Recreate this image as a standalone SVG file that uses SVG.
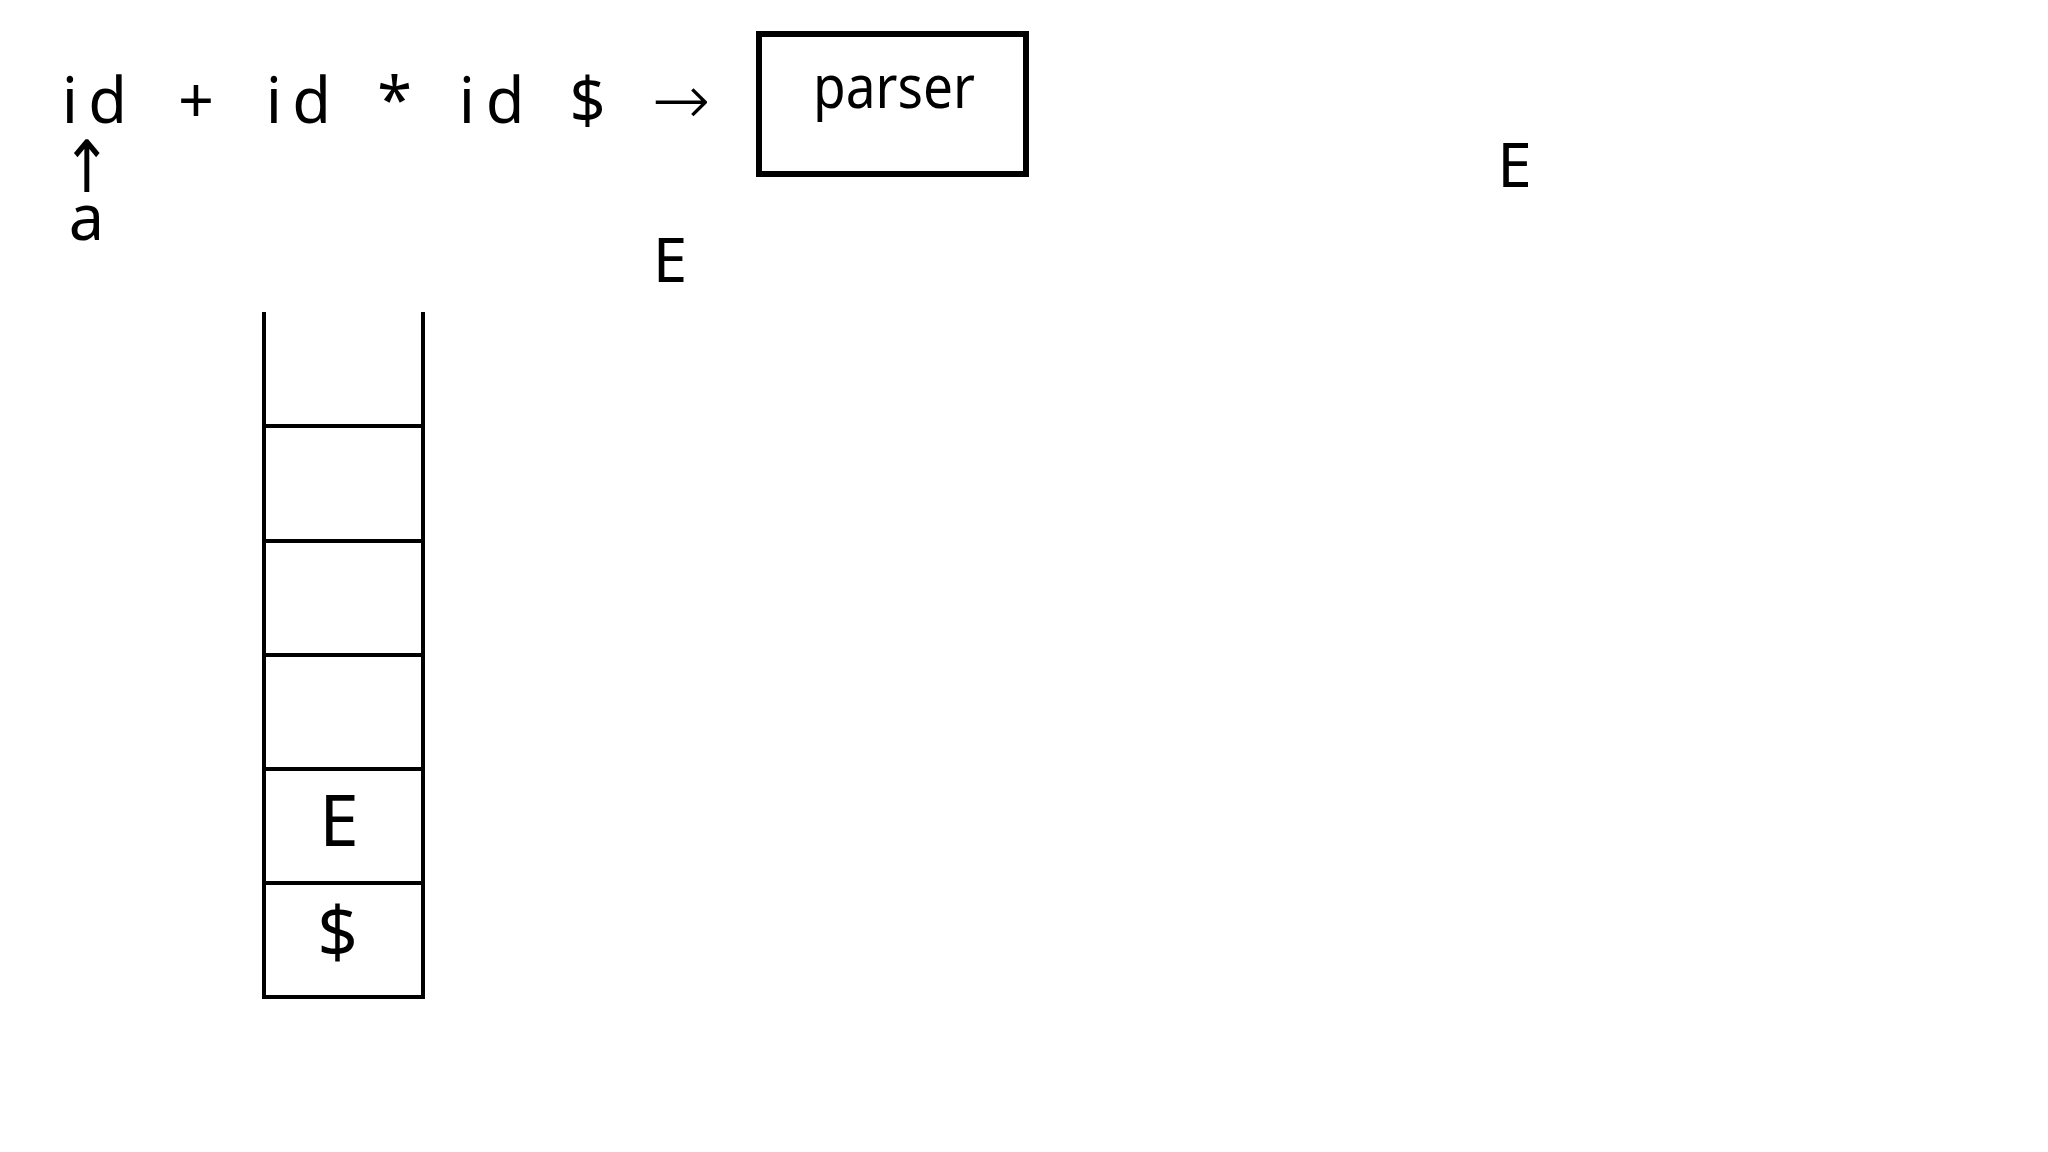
<svg xmlns="http://www.w3.org/2000/svg" width="2048" height="1152" viewBox="0 0 2048 1152">
<style>
  text { font-family: "Noto Sans", "Open Sans", "DejaVu Sans", sans-serif; fill: #000; text-anchor: middle; }
  .tok { font-size: 63px; }
  .sym { font-family: "DejaVu Sans", "Noto Sans", sans-serif; }
  .thin { font-weight: 200; }
  .lbl { font-size: 62px; }
  .cell { font-size: 71px; }
  .ln { stroke: #000; stroke-width: 4; fill: none; }
</style>
<rect width="2048" height="1152" fill="#fff"/>
<g id="input">
  <text class="tok" x="70" y="123">i</text>
  <text class="tok" x="107.5" y="123">d</text>
  <text class="tok" x="196" y="123">+</text>
  <text class="tok" x="274" y="123">i</text>
  <text class="tok" x="311.5" y="123">d</text>
  <text class="tok" x="394.5" y="123">*</text>
  <text class="tok" x="467" y="123">i</text>
  <text class="tok" x="505" y="123">d</text>
  <text class="tok" x="587.5" y="123">$</text>
  <text class="sym thin" x="681" y="124" font-size="70">→</text>
</g>
<g id="pointer">
  <text class="sym" transform="translate(87,192) scale(1,1.2)" x="0" y="0" font-size="60">↑</text>
  <text class="tok" x="86.5" y="240">a</text>
</g>
<g id="parser">
  <rect x="759" y="34" width="267" height="140" fill="#fff" stroke="#000" stroke-width="6"/>
  <text x="894" y="108" font-size="60" textLength="162" lengthAdjust="spacingAndGlyphs">parser</text>
</g>
<g id="E-mid">
  <text class="lbl" x="670" y="282">E</text>
</g>
<g id="E-right">
  <text class="lbl" x="1514.5" y="187">E</text>
</g>
<g id="stack">
  <path class="ln" d="M264 312 V997 H423 V312"/>
  <path class="ln" d="M264 426 H423 M264 541 H423 M264 655 H423 M264 769 H423 M264 883 H423"/>
  <text class="cell" x="339" y="846">E</text>
  <text class="cell" x="337.5" y="958">$</text>
</g>
<g id="connectors"></g>
</svg>
